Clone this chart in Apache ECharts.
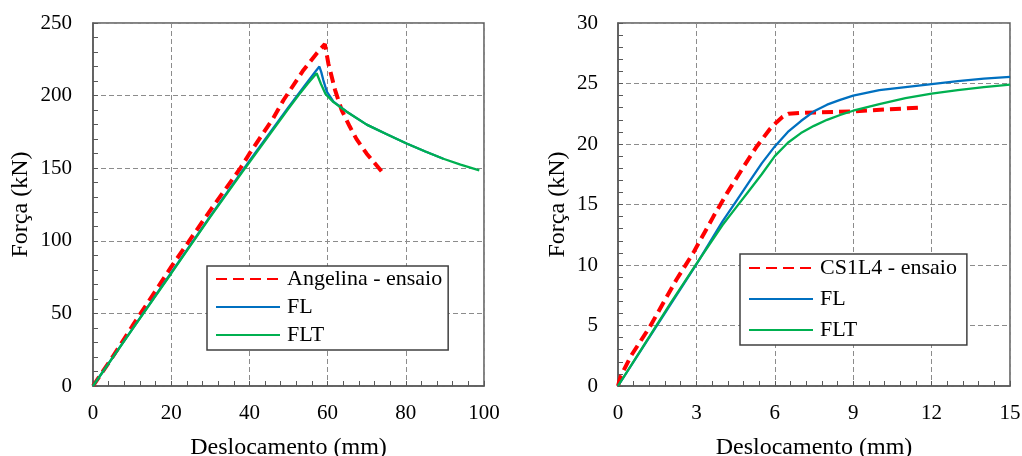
<!DOCTYPE html>
<html>
<head>
<meta charset="utf-8">
<script src="https://cdn.jsdelivr.net/npm/echarts@6/dist/echarts.min.js"></script>
<style>
html,body{margin:0;padding:0;background:#fff;}
#chart{width:1022px;height:456px;}
</style>
</head>
<body>
<div id="chart"></div>
<script>
// ---- Data ----
const leftNames = ['Angelina - ensaio', 'FL', 'FLT'];
const leftAngelina = [[0,0],[5,20],[10,41],[20,82],[30,121],[37.7,150],[40,160],[46.1,184.4],[48.7,196.8],[53.8,217.5],[57.2,229],[59.3,235.5],[60.2,222],[61.9,204],[63.6,190],[65.7,178.5],[67.4,170],[70,160],[72.5,152],[74.7,145]];
const leftFL = [[0,0],[10,39],[20,78],[30,117],[40,155],[50,192],[52.5,201],[55,210],[57,217],[57.9,220],[58.4,216],[58.9,210.7],[59.8,202.7],[61.5,195.8],[64.9,188.9],[70,180],[75,173.5],[80.2,167],[85,161.5],[89.6,156.5]];
const leftFLT = [[0,0],[10,38.8],[20,77.5],[30,116.5],[38.9,150],[40,154],[50,191],[52.5,200],[55,208.5],[57.2,215.4],[58.3,208],[59.5,201],[61.5,195.5],[64.9,188.9],[70,180],[75,173.5],[80.2,167],[85,161.5],[89.6,156.5],[94,152.5],[98.8,148.5]];

const rightNames = ['CS1L4 - ensaio', 'FL', 'FLT'];
const rightCS1L4 = [[0,0],[0.1,0.8],[0.5,2.5],[1.22,4.9],[2.24,8.8],[2.88,11.0],[3.65,14.0],[4.16,15.9],[4.8,18.1],[5.31,19.8],[5.8,21.2],[6.07,21.8],[6.3,22.25],[6.52,22.5],[7,22.57],[9,22.7],[11.5,23.0]];
const rightFL = [[0,0],[1,3.35],[2,6.7],[3,10.05],[4,13.6],[4.5,15.2],[5,16.8],[5.5,18.4],[6,19.8],[6.5,21.0],[7,21.9],[7.5,22.7],[8,23.25],[8.5,23.65],[9,24.0],[10,24.45],[11,24.7],[12,24.95],[13,25.2],[14,25.4],[15,25.55]];
const rightFLT = [[0,0],[1,3.4],[2,6.8],[3,10.1],[4,13.3],[4.5,14.7],[5,16.1],[5.5,17.5],[6,19.0],[6.5,20.1],[7,20.9],[7.5,21.5],[8,22.0],[8.5,22.4],[9,22.75],[10,23.3],[11,23.8],[12,24.17],[13,24.45],[14,24.7],[15,24.9]];

const leftXTicks = {min:0, max:100, interval:20};
const leftYTicks = {min:0, max:250, interval:50};
const rightXTicks = {min:0, max:15, interval:3};
const rightYTicks = {min:0, max:30, interval:5};

// ---- Styling ----
const FONT = '"Liberation Serif", "Times New Roman", serif';
const AXIS_COLOR = '#595959';
const RED = '#FF0000', BLUE = '#0070C0', GREEN = '#00B050';

function xAxis(idx, t){
  return {
    type:'value', gridIndex:idx, min:t.min, max:t.max, interval:t.interval,
    name:'Deslocamento (mm)', nameLocation:'middle', nameGap:50,
    nameTextStyle:{fontFamily:FONT, fontSize:24, color:'#000'},
    axisLine:{show:true, onZero:false, lineStyle:{color:AXIS_COLOR, width:1.5}},
    axisTick:{show:true, inside:true, length:5, lineStyle:{color:AXIS_COLOR}},
    minorTick:{show:true, splitNumber:5, length:5, lineStyle:{color:AXIS_COLOR}},
    axisLabel:{fontFamily:FONT, fontSize:21, color:'#000', margin:17},
    splitLine:{show:true, lineStyle:{color:'#8c8c8c', type:[5,3], width:1}}
  };
}
function yAxis(idx, t, gap, margin){
  return {
    type:'value', gridIndex:idx, min:t.min, max:t.max, interval:t.interval,
    name:'Força (kN)', nameLocation:'middle', nameGap:gap, nameRotate:90,
    nameTextStyle:{fontFamily:FONT, fontSize:24, color:'#000'},
    axisLine:{show:true, onZero:false, lineStyle:{color:AXIS_COLOR, width:1.5}},
    axisTick:{show:true, inside:true, length:5, lineStyle:{color:AXIS_COLOR}},
    minorTick:{show:true, splitNumber:5, length:5, lineStyle:{color:AXIS_COLOR}},
    axisLabel:{fontFamily:FONT, fontSize:21, color:'#000', margin:margin},
    splitLine:{show:true, lineStyle:{color:'#8c8c8c', type:[5,3], width:1}}
  };
}
function series(name, data, idx, color, dashed){
  return {
    name:name, type:'line', xAxisIndex:idx, yAxisIndex:idx, data:data,
    showSymbol:false, symbol:'none', animation:false,
    lineStyle: dashed ? {color:color, width:4, type:[11,6]} : {color:color, width:2.3},
    itemStyle:{color:color},
    smooth:false
  };
}
function legend(names, left, top, gap, pad){
  return {
    data:names,
    orient:'vertical', left:left, top:top,
    itemWidth:64, itemHeight:14, itemGap:gap,
    itemStyle:{opacity:0},
    borderColor:'#404040', borderWidth:1.5, padding:pad,
    textStyle:{fontFamily:FONT, fontSize:22, color:'#000', padding:[0,0,0,2]},
    backgroundColor:'#fff',
    selectedMode:false
  };
}

const ZW = '\u200b';
const chart = echarts.init(document.getElementById('chart'), null, {renderer:'canvas'});
chart.setOption({
  animation:false,
  backgroundColor:'#fff',
  grid:[
    {left:93, top:23, width:391, height:363, show:true, borderColor:AXIS_COLOR, borderWidth:1.5, backgroundColor:'transparent', containLabel:false, outerBoundsMode:'none'},
    {left:618, top:23, width:392, height:363, show:true, borderColor:AXIS_COLOR, borderWidth:1.5, backgroundColor:'transparent', containLabel:false, outerBoundsMode:'none'}
  ],
  xAxis:[xAxis(0, leftXTicks), xAxis(1, rightXTicks)],
  yAxis:[yAxis(0, leftYTicks, 60, 21), yAxis(1, rightYTicks, 48, 20)],
  legend:[
    legend(leftNames, 207, 266, 6, [2,6,4,8]),
    legend([rightNames[0], rightNames[1]+ZW, rightNames[2]+ZW], 740, 254, 9, [3,10,4,8])
  ],
  series:[
    series(leftNames[0], leftAngelina, 0, RED, true),
    series(leftNames[1], leftFL, 0, BLUE, false),
    series(leftNames[2], leftFLT, 0, GREEN, false),
    series(rightNames[0], rightCS1L4, 1, RED, true),
    series(rightNames[1]+ZW, rightFL, 1, BLUE, false),
    series(rightNames[2]+ZW, rightFLT, 1, GREEN, false)
  ]
});
</script>
</body>
</html>
